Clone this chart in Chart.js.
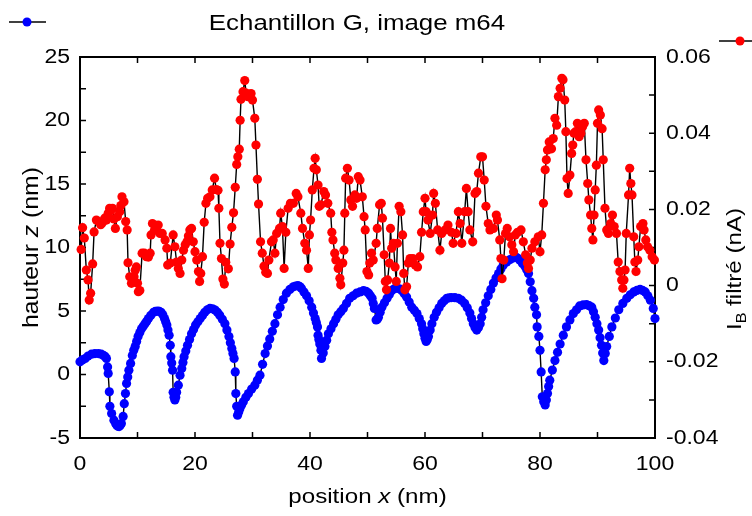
<!DOCTYPE html>
<html>
<head>
<meta charset="utf-8">
<script src="https://cdn.jsdelivr.net/npm/chart.js@4.4.1/dist/chart.umd.min.js"></script>
<style>
html,body{margin:0;padding:0;background:#fff;}
#wrap{width:752px;height:516px;}
</style>
</head>
<body>
<div id="wrap"><canvas id="c" width="752" height="516"></canvas></div>
<script>
// ---- data ----
const titleText = "Echantillon G, image m64";
const xTickValues = [0, 20, 40, 60, 80, 100];
const yLeftTickLabels = [-5, 0, 5, 10, 15, 20, 25];
const yRightTickLabels = [-0.04, -0.02, 0, 0.02, 0.04, 0.06];

// blue series: hauteur z (nm) vs position x (nm)
const blueX = [0,0.4,0.9,1.4,2.0,2.6,3.2,3.7,4.1,4.4,4.6,4.8,4.9,5.1,5.2,5.5,5.9,6.2,6.4,6.6,6.8,7.0,7.2,7.5,7.7,7.9,8.1,8.3,8.5,8.8,9.1,9.35,9.6,9.85,10.1,10.4,10.7,11.0,11.3,11.6,11.9,12.3,12.8,13.1,13.5,13.8,14.1,14.4,14.7,14.9,15.1,15.3,15.5,15.7,15.8,15.95,16.1,16.2,16.35,16.5,16.65,16.8,17.1,17.4,17.7,17.9,18.1,18.4,18.7,19.05,19.4,19.75,20.1,20.5,20.9,21.3,21.7,22.15,22.6,23.05,23.5,23.9,24.3,24.75,25.2,25.55,25.9,26.15,26.4,26.6,26.8,27.0,27.1,27.25,27.4,27.6,27.8,28.1,28.4,28.85,29.3,29.85,30.4,30.85,31.3,31.75,32.2,32.6,33.0,33.45,33.9,34.35,34.8,35.35,35.9,36.5,37.1,37.5,37.9,38.2,38.5,38.95,39.4,39.85,40.3,40.6,40.9,41.1,41.3,41.4,41.55,41.7,41.9,42.0,42.3,42.6,42.9,43.2,43.65,44.1,44.5,44.9,45.35,45.8,46.35,46.9,47.5,48.1,48.7,49.3,49.75,50.2,50.5,50.8,51.0,51.2,51.5,51.7,51.9,52.2,52.5,52.95,53.4,53.8,54.2,54.65,55.1,55.55,56.0,56.4,56.8,57.25,57.7,58.15,58.6,59.0,59.4,59.6,59.8,60.0,60.2,60.4,60.6,60.9,61.2,61.6,62.0,62.45,62.9,63.35,63.8,64.2,64.6,65.2,65.8,66.35,66.9,67.35,67.8,68.1,68.4,68.7,69.0,69.3,69.6,69.85,70.1,70.55,71.0,71.45,71.9,72.35,72.8,73.2,73.6,74.2,74.8,75.3,75.8,76.15,76.5,76.95,77.4,77.7,78.0,78.3,78.6,78.9,79.1,79.4,79.5,79.8,80.0,80.2,80.4,80.65,80.9,81.1,81.3,81.5,81.7,82.15,82.6,83.05,83.5,84.05,84.6,85.2,85.8,86.35,86.9,87.5,88.1,88.55,89.0,89.3,89.6,89.9,90.2,90.45,90.7,90.9,91.1,91.35,91.6,92.05,92.5,93.1,93.7,94.4,95.1,95.7,96.3,96.85,97.4,97.85,98.3,98.75,99.2,99.7,100];
const blueZ = [1.0,1.15,1.26,1.45,1.6,1.65,1.65,1.6,1.5,1.4,1.26,0.6,0.08,-1.36,-2.5,-3.07,-3.6,-3.85,-4.0,-4.08,-4.1,-4.0,-3.86,-3.3,-2.3,-1.5,-0.7,-0.2,0.34,0.87,1.5,1.9,2.2,2.6,3.0,3.3,3.6,3.8,4.0,4.2,4.4,4.65,4.9,4.97,5.0,4.97,4.9,4.7,4.4,4.15,3.9,3.5,3.1,2.3,1.4,0.9,0.34,-1.4,-1.8,-2.0,-1.8,-1.4,-0.84,-0.05,0.47,0.95,1.4,1.85,2.3,2.75,3.2,3.55,3.9,4.15,4.4,4.65,4.9,5.1,5.2,5.17,5.07,4.9,4.67,4.35,4.0,3.5,3.0,2.5,2.05,1.65,1.26,0.2,-1.5,-2.5,-3.2,-2.95,-2.7,-2.4,-2.15,-1.8,-1.5,-1.15,-0.84,-0.45,-0.05,0.8,1.65,2.25,2.8,3.4,4.0,4.7,5.3,5.9,6.4,6.7,6.9,6.97,7.0,6.92,6.8,6.5,6.2,5.8,5.3,4.85,4.4,4.1,3.75,3.1,2.75,2.4,1.9,1.26,1.7,2.2,2.7,3.2,3.6,4.0,4.35,4.7,4.95,5.2,5.6,6.0,6.2,6.4,6.5,6.6,6.55,6.4,6.2,6.0,5.6,5.2,4.3,4.35,4.5,4.9,5.3,5.65,6.0,6.3,6.6,6.75,6.8,6.75,6.6,6.35,6.1,5.7,5.3,5.05,4.8,4.4,4.0,3.6,3.2,2.85,2.6,2.75,3.0,3.5,4.0,4.5,4.9,5.25,5.6,5.8,6.0,6.04,6.06,6.05,6.0,5.85,5.6,5.25,4.85,4.4,4.0,3.7,3.5,3.7,4.0,4.5,5.1,5.65,6.2,6.7,7.2,7.6,7.95,8.3,8.6,8.85,9.05,9.18,9.26,9.15,9.0,8.75,8.5,8.25,7.95,7.3,6.6,6.0,5.3,4.7,3.75,3.0,1.9,0.2,-1.76,-2.15,-2.4,-2.0,-1.5,-0.95,-0.45,0.35,1.1,1.75,2.4,3.1,3.75,4.3,4.8,5.1,5.4,5.48,5.5,5.42,5.3,4.95,4.5,4.0,3.5,2.9,2.3,1.7,1.1,1.65,2.2,3.0,3.75,4.45,5.1,5.6,6.0,6.28,6.5,6.62,6.7,6.62,6.5,6.2,5.85,5.2,4.4];

// red series: I_B filtré (nA) vs position x (nm)
const redX = [0.2,0.45,0.75,1.1,1.4,1.6,1.85,2.2,2.45,2.85,3.25,3.6,3.85,4.3,4.6,4.9,5.15,5.4,5.65,5.9,6.15,6.5,6.9,7.1,7.3,7.65,7.95,8.2,8.35,8.65,8.95,9.15,9.4,9.6,9.8,10.0,10.15,10.4,10.8,11.2,11.55,11.9,12.2,12.35,12.6,12.95,13.3,13.6,13.9,14.3,14.8,15.1,15.25,15.7,16.2,16.5,16.8,17.1,17.4,17.7,18.0,18.3,18.6,18.85,19.1,19.4,19.7,20.0,20.3,20.6,20.8,21.0,21.3,21.6,21.9,22.2,22.6,23.0,23.4,23.7,24.0,24.15,24.35,24.6,24.85,25.1,25.35,25.8,26.1,26.4,26.7,27.0,27.25,27.45,27.7,27.85,28.0,28.35,28.65,28.9,29.2,29.5,29.75,30.0,30.4,30.6,30.85,31.05,31.4,31.7,32.0,32.3,32.6,32.85,33.3,33.6,33.9,34.2,34.7,34.9,35.2,35.5,35.8,36.2,36.6,37.1,37.6,37.9,38.4,38.7,39.1,39.4,39.7,39.9,40.1,40.4,40.7,40.9,41.1,41.4,41.6,41.9,42.4,42.7,43.1,43.6,43.8,44.0,44.3,44.5,44.9,45.2,45.35,45.7,45.9,46.05,46.2,46.5,46.8,47.1,47.4,47.8,48.1,48.4,48.7,49.1,49.4,49.6,49.9,50.2,50.4,50.7,51.0,51.5,51.7,52.1,52.4,52.6,52.9,53.1,53.3,53.5,53.8,54.0,54.2,54.5,54.8,55.0,55.2,55.5,55.8,56.1,56.3,56.5,56.8,57.1,57.4,57.9,58.3,58.7,59.1,59.4,59.7,60.0,60.2,60.5,60.9,61.3,61.5,61.8,62.2,62.6,62.9,63.5,64.0,64.6,64.9,65.4,65.8,66.1,66.4,66.9,67.2,67.5,67.8,68.3,68.7,69.0,69.3,69.7,70.0,70.3,70.6,71.0,71.3,71.9,72.4,72.6,73.0,73.2,73.4,73.7,74.0,74.3,74.7,75.1,75.4,75.7,76.1,76.7,77.1,77.5,77.8,78.0,78.3,78.6,79.1,79.7,80.0,80.3,80.6,80.9,81.1,81.3,81.6,82.0,82.3,82.6,82.9,83.2,83.5,83.8,84.0,84.3,84.5,84.7,84.9,85.2,85.5,85.7,85.9,86.2,86.5,86.8,87.1,87.4,87.7,88.0,88.3,88.5,88.8,89.0,89.2,89.4,89.6,89.8,90.0,90.2,90.5,90.8,91.0,91.3,91.6,91.9,92.3,92.6,92.9,93.3,93.6,93.9,94.2,94.4,94.6,94.8,95.0,95.4,95.6,95.8,96.0,96.3,96.5,96.7,97.0,97.2,97.5,97.9,98.1,98.4,98.7,99.1,99.5,99.9];
const redI = [0.0095,0.0152,0.0125,0.0041,0.0015,-0.0038,-0.002,0.0057,0.0141,0.0172,0.0168,0.016,0.0164,0.0177,0.0172,0.019,0.0203,0.0198,0.0203,0.0175,0.015,0.0181,0.0194,0.021,0.0233,0.022,0.0168,0.0146,0.006,0.0023,0.0006,0.0012,0.0023,0.004,0.0049,0.0006,-0.0016,-0.0013,0.0085,0.0085,0.0076,0.0075,0.0085,0.0133,0.0163,0.0145,0.0155,0.0159,0.0137,0.0137,0.012,0.0098,0.0054,0.0059,0.0133,0.0102,0.0062,0.0045,0.0032,0.0067,0.0093,0.0107,0.0115,0.013,0.0146,0.015,0.0115,0.0089,0.0067,0.0037,0.0011,0.0032,0.0076,0.0166,0.0216,0.0229,0.0233,0.0251,0.0282,0.0252,0.025,0.0203,0.0111,0.0071,0.0017,0.0004,0.0061,0.0044,0.0109,0.0153,0.0191,0.0258,0.0318,0.0338,0.0358,0.0434,0.0489,0.0509,0.0538,0.0505,0.0496,0.0502,0.0504,0.0487,0.0439,0.0369,0.0279,0.0214,0.0115,0.0085,0.0051,0.0035,0.0032,0.0067,0.0115,0.012,0.0085,0.0137,0.015,0.019,0.0155,0.0045,0.014,0.0203,0.0216,0.0216,0.0242,0.0233,0.019,0.015,0.0111,0.0093,0.0045,0.0133,0.0172,0.0251,0.0308,0.0334,0.0304,0.0264,0.0208,0.0212,0.0247,0.0238,0.0216,0.019,0.014,0.012,0.0085,0.0067,0.0045,0.0019,0.0002,0.0059,0.0093,0.019,0.0282,0.0308,0.0277,0.0225,0.0208,0.0238,0.0229,0.0286,0.0277,0.0233,0.0181,0.0146,0.0037,0.0028,0.0059,0.0085,0.0067,0.0111,0.015,0.0212,0.0216,0.0177,0.0081,0.0011,-0.0011,0.0015,0.0059,0.015,0.0098,0.0111,0.0049,0.0011,0.0111,0.0208,0.0194,0.0133,0.0032,-0.0011,-0.0003,0.0059,0.0071,0.0071,0.0054,0.0049,0.0076,0.014,0.0194,0.0229,0.0194,0.0172,0.0137,0.0185,0.0242,0.0216,0.0146,0.0093,0.0137,0.0146,0.0159,0.014,0.0111,0.0137,0.0194,0.0163,0.0111,0.0194,0.0255,0.0194,0.0146,0.0115,0.0242,0.0247,0.0295,0.0338,0.0338,0.0277,0.0208,0.0163,0.0146,0.015,0.0185,0.0172,0.012,0.0071,0.0018,0.0067,0.0137,0.015,0.0128,0.0107,0.0089,0.0133,0.014,0.0146,0.0115,0.0081,0.0059,0.0045,0.0067,0.0098,0.0115,0.0128,0.0089,0.0133,0.0216,0.0304,0.033,0.0356,0.0377,0.0359,0.0386,0.0439,0.0421,0.0496,0.0518,0.0544,0.054,0.0487,0.0404,0.0281,0.0242,0.029,0.0347,0.0369,0.04,0.0404,0.0426,0.0391,0.04,0.0417,0.0426,0.033,0.0268,0.0225,0.0185,0.015,0.012,0.0185,0.0251,0.0316,0.0426,0.0461,0.0448,0.0412,0.033,0.0203,0.0146,0.0137,0.0163,0.0185,0.0155,0.0137,0.0062,0.0037,0.0015,-0.0007,0.0015,0.0041,0.0137,0.0238,0.0308,0.0268,0.0238,0.0128,0.0062,0.0037,0.0067,0.0102,0.0155,0.0163,0.0146,0.012,0.0102,0.0093,0.0076,0.0067];

// ---- rendering ----
const FONT = "'Liberation Sans', Arial, Helvetica, sans-serif";
const SX = 1.15; // horizontal stretch of the reference lettering

const canvas = document.getElementById('c');
const ctx0 = canvas.getContext('2d');
const nativeFill = ctx0.fillText;
ctx0.fillText = function (t, x, y) {
  this.save();
  this.translate(x, y);
  this.scale(SX, 1);
  nativeFill.call(this, t, 0, 0);
  this.restore();
};

function richText(ctx, segs, x, y, rot) {
  ctx.save();
  ctx.translate(x, y);
  ctx.rotate(rot);
  ctx.textAlign = 'left';
  ctx.textBaseline = 'alphabetic';
  ctx.fillStyle = '#000';
  let total = 0;
  segs.forEach(s => { ctx.font = s.font; total += ctx.measureText(s.t).width * SX; });
  let cx = -total / 2;
  segs.forEach(s => {
    ctx.font = s.font;
    ctx.fillText(s.t, cx, s.dy || 0);
    cx += ctx.measureText(s.t).width * SX;
  });
  ctx.restore();
}

const deco = {
  id: 'deco',
  beforeDatasetsDraw(chart) {
    const { ctx, chartArea: a, scales } = chart;
    ctx.save();
    ctx.strokeStyle = '#000';
    ctx.lineWidth = 1.5;
    const L = 6;
    ctx.beginPath();
    scales.x.ticks.forEach(t => {
      const p = scales.x.getPixelForValue(t.value);
      ctx.moveTo(p, a.bottom); ctx.lineTo(p, a.bottom - L);
      ctx.moveTo(p, a.top); ctx.lineTo(p, a.top + L);
    });
    scales.y.ticks.forEach(t => {
      const p = scales.y.getPixelForValue(t.value);
      ctx.moveTo(a.left, p); ctx.lineTo(a.left + L, p);
    });
    scales.y2.ticks.forEach(t => {
      const p = scales.y2.getPixelForValue(t.value);
      ctx.moveTo(a.right, p); ctx.lineTo(a.right - L, p);
    });
    ctx.stroke();
    ctx.lineWidth = 2;
    ctx.strokeRect(a.left, a.top, a.right - a.left, a.bottom - a.top);
    ctx.restore();
  },
  afterDraw(chart) {
    const { ctx, chartArea: a } = chart;
    const F = (s, it) => (it ? 'italic ' : '') + s + 'px ' + FONT;
    // title
    richText(ctx, [{ t: titleText, font: F(22.5) }], 357, 30, 0);
    // x title
    richText(ctx, [{ t: 'position ', font: F(21) }, { t: 'x', font: F(21, true) }, { t: ' (nm)', font: F(21) }],
      (a.left + a.right) / 2, 503, 0);
    // left title
    richText(ctx, [{ t: 'hauteur ', font: F(21.5) }, { t: 'z', font: F(21.5, true) }, { t: ' (nm)', font: F(21.5) }],
      38, (a.top + a.bottom) / 2, -Math.PI / 2);
    // right title
    richText(ctx, [{ t: 'I', font: F(21) }, { t: 'B', font: F(14), dy: 5 }, { t: ' filtré (nA)', font: F(21) }],
      741, 269, -Math.PI / 2);
    // legend markers
    ctx.save();
    ctx.strokeStyle = '#000'; ctx.lineWidth = 1.5;
    ctx.beginPath(); ctx.moveTo(9, 22); ctx.lineTo(46, 22); ctx.stroke();
    ctx.fillStyle = '#0000ff'; ctx.beginPath(); ctx.arc(27, 22, 4.5, 0, Math.PI * 2); ctx.fill();
    ctx.beginPath(); ctx.moveTo(719, 41); ctx.lineTo(752, 41); ctx.stroke();
    ctx.fillStyle = '#ff0000'; ctx.beginPath(); ctx.arc(740, 41, 4.5, 0, Math.PI * 2); ctx.fill();
    ctx.restore();
  }
};

const tickFont = { family: FONT, size: 20 };

new Chart(canvas, {
  type: 'line',
  data: {
    datasets: [
      {
        label: 'I_B filtré',
        data: redX.map((x, i) => ({ x: x, y: redI[i] })),
        yAxisID: 'y2',
        borderColor: '#000',
        borderWidth: 1.4,
        pointBackgroundColor: '#ff0000',
        pointBorderWidth: 0,
        pointRadius: 4.6,
        tension: 0,
        order: 0,
        clip: false
      },
      {
        label: 'hauteur z',
        data: blueX.map((x, i) => ({ x: x, y: blueZ[i] })),
        yAxisID: 'y',
        borderColor: '#000',
        borderWidth: 1.4,
        pointBackgroundColor: '#0000ff',
        pointBorderWidth: 0,
        pointRadius: 4.6,
        tension: 0,
        order: 1,
        clip: false
      }
    ]
  },
  options: {
    responsive: false,
    animation: false,
    devicePixelRatio: 1,
    layout: { padding: { top: 57, left: 0, right: 0, bottom: 0 } },
    plugins: { legend: { display: false }, title: { display: false }, tooltip: { enabled: false } },
    scales: {
      x: {
        type: 'linear', position: 'bottom', min: 0, max: 100,
        ticks: {
          stepSize: 10, autoSkip: false, maxRotation: 0, padding: 14, color: '#000', font: tickFont,
          callback: v => (xTickValues.includes(v) ? String(v) : '')
        },
        grid: { display: false, drawTicks: false },
        border: { display: false },
        afterFit: s => { s.height = 78; }
      },
      y: {
        type: 'linear', position: 'left', min: -5, max: 25,
        ticks: {
          stepSize: 2.5, autoSkip: false, padding: 10, color: '#000', font: tickFont,
          callback: v => (yLeftTickLabels.includes(v) ? String(v) : '')
        },
        grid: { display: false, drawTicks: false },
        border: { display: false },
        afterFit: s => { s.width = 80; }
      },
      y2: {
        type: 'linear', position: 'right', min: -0.04, max: 0.06,
        ticks: {
          stepSize: 0.01, autoSkip: false, padding: 11, color: '#000', font: tickFont,
          callback: v => {
            const r = Math.round(v * 100) / 100;
            return yRightTickLabels.some(t => Math.abs(t - r) < 1e-9) ? String(r) : '';
          }
        },
        grid: { display: false, drawTicks: false },
        border: { display: false },
        afterFit: s => { s.width = 97; }
      }
    }
  },
  plugins: [deco]
});
</script>
</body>
</html>
